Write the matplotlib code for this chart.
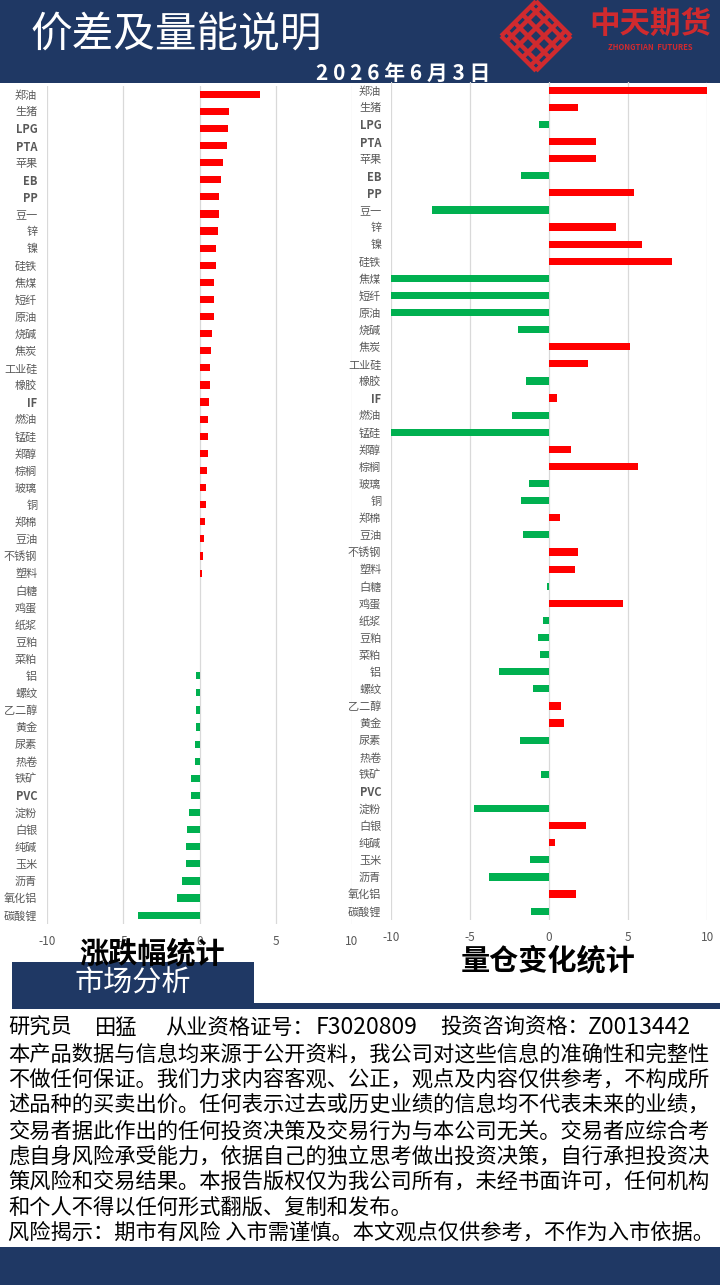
import matplotlib
matplotlib.use("Agg")
import matplotlib.pyplot as plt
from matplotlib.patches import Rectangle
import numpy as np

plt.rcParams['font.family'] = ['Noto Sans CJK SC', 'DejaVu Sans']

# ---------------- data ----------------
categories = ["郑油", "生猪", "LPG", "PTA", "苹果", "EB", "PP", "豆一", "锌", "镍",
              "硅铁", "焦煤", "短纤", "原油", "烧碱", "焦炭", "工业硅", "橡胶", "IF", "燃油",
              "锰硅", "郑醇", "棕榈", "玻璃", "铜", "郑棉", "豆油", "不锈钢", "塑料", "白糖",
              "鸡蛋", "纸浆", "豆粕", "菜粕", "铝", "螺纹", "乙二醇", "黄金", "尿素", "热卷",
              "铁矿", "PVC", "淀粉", "白银", "纯碱", "玉米", "沥青", "氧化铝", "碳酸锂"]

pct_change = [3.94, 1.93, 1.87, 1.80, 1.54, 1.41, 1.28, 1.27, 1.21, 1.08,
              1.07, 0.95, 0.95, 0.94, 0.82, 0.75, 0.69, 0.68, 0.62, 0.56,
              0.55, 0.54, 0.49, 0.42, 0.41, 0.36, 0.29, 0.23, 0.16, 0.06,
              0.04, 0.0, 0.0, 0.0, -0.20, -0.20, -0.20, -0.21, -0.27, -0.28,
              -0.54, -0.55, -0.67, -0.80, -0.87, -0.88, -1.13, -1.46, -4.02]

oi_change = [10.0, 1.81, -0.65, 2.95, 2.95, -1.79, 5.36, -7.43, 4.22, 5.86,
             7.76, -10.0, -10.0, -10.0, -1.98, 5.10, 2.45, -1.48, 0.49, -2.36,
             -10.0, 1.37, 5.61, -1.29, -1.79, 0.68, -1.67, 1.81, 1.62, -0.15,
             4.66, -0.40, -0.72, -0.59, -3.19, -1.03, 0.74, 0.93, -1.86, 0.0,
             -0.53, 0.0, -4.77, 2.32, 0.36, -1.22, -3.82, 1.69, -1.16]

x_ticks = [-10, -5, 0, 5, 10]
x_tick_labels = ["-10", "-5", "0", "5", "10"]

NAVY = "#1F3864"
RED = "#FF0000"
GREEN = "#00B050"
GRID = "#D9D9D9"
LABEL = "#595959"

W, H = 720, 1285
fig = plt.figure(figsize=(W / 100, H / 100), dpi=100)
fig.patch.set_facecolor("white")


def fx(x):
    return x / W


def fy(y):
    return 1 - y / H


def rect(x0, y0, x1, y1, color, z=-1):
    fig.add_artist(Rectangle((fx(x0), fy(y1)), fx(x1) - fx(x0), fy(y0) - fy(y1),
                             transform=fig.transFigure, facecolor=color,
                             edgecolor="none", zorder=z))


# ---------------- header ----------------
rect(0, 0, 720, 83, NAVY)
fig.text(fx(30), fy(36), "价差及量能说明", color="white", fontsize=30,
         ha="left", va="center", zorder=5)
fig.text(fx(403), fy(73), "2 0 2 6 年 6 月 3 日", color="white", fontsize=15,
         fontweight="bold", ha="center", va="center", zorder=5)

# logo (simplified knot)
logo_red = "#D02A2E"
cx, cy, r = 536, 36, 36
ang = np.deg2rad(45)
rot = np.array([[np.cos(ang), -np.sin(ang)], [np.sin(ang), np.cos(ang)]])


def knot_line(p0, p1, lw=3.2):
    a = rot @ np.array(p0) * r * 0.72
    b = rot @ np.array(p1) * r * 0.72
    fig.add_artist(plt.Line2D([fx(cx + a[0]), fx(cx + b[0])],
                              [fy(cy + a[1]), fy(cy + b[1])],
                              transform=fig.transFigure, color=logo_red,
                              lw=lw, zorder=4, solid_capstyle="butt"))


for c in [-0.66, -0.22, 0.22, 0.66]:
    knot_line((c, -0.95), (c, 0.95))
    knot_line((-0.95, c), (0.95, c))
for sgn in [-1, 1]:
    knot_line((-0.95, sgn * 0.95), (0.95, sgn * 0.95))
    knot_line((sgn * 0.95, -0.95), (sgn * 0.95, 0.95))
fig.text(fx(650), fy(25), "中天期货", color=logo_red, fontsize=22,
         fontweight="heavy", ha="center", va="center", zorder=5)
fig.text(fx(650), fy(47), "ZHONGTIAN  FUTURES", color=logo_red, fontsize=5.5,
         fontweight="bold", ha="center", va="center", zorder=5)


# ---------------- charts ----------------
def make_chart(ax, values):
    y = np.arange(len(categories))
    colors = [RED if v > 0 else GREEN for v in values]
    ax.barh(y, values, height=0.42, color=colors, zorder=3)
    ax.set_ylim(len(categories) - 0.5, -0.5)
    ax.set_xlim(-10, 10)
    ax.set_xticks(x_ticks)
    ax.set_xticklabels(x_tick_labels)
    ax.set_yticks(y)
    ax.set_yticklabels(categories)
    for lab in ax.get_yticklabels():
        if lab.get_text().isascii():
            lab.set_fontweight("bold")
    ax.tick_params(axis="y", length=0, pad=7, labelsize=8, labelcolor=LABEL)
    ax.tick_params(axis="x", length=0, pad=8, labelsize=8.5, labelcolor=LABEL)
    ax.grid(axis="x", color=GRID, lw=0.9, zorder=0)
    ax.set_axisbelow(True)
    for s in ax.spines.values():
        s.set_visible(False)
    ax.set_facecolor("none")


axL = fig.add_axes([fx(47), fy(923.7), (352 - 47) / W, 838 / H])
make_chart(axL, pct_change)
axR = fig.add_axes([fx(391), fy(919.7), (707.3 - 391) / W, 838 / H])
make_chart(axR, oi_change)

fig.text(fx(152), fy(953), "涨跌幅统计", color="black", fontsize=21,
         fontweight="bold", ha="center", va="center", zorder=10)
fig.text(fx(548), fy(960), "量仓变化统计", color="black", fontsize=21,
         fontweight="bold", ha="center", va="center", zorder=10)

# ---------------- market analysis box ----------------
rect(12, 962, 254, 1003, NAVY, z=1)
rect(12, 1003, 720, 1009, NAVY, z=1)
fig.text(fx(133), fy(984), "市场分析", color="white", fontsize=21,
         ha="center", va="center", zorder=11)

FS = 15.3
# first line: researcher info, in segments as laid out in the reference
for t, xx in [("研究员", 8), ("田猛", 95), ("从业资格证号：", 165), ("F3020809", 316),
              ("投资咨询资格：", 440), ("Z0013442", 588)]:
    fig.text(fx(xx), fy(1028), t, color="black",
             fontsize=(FS * 1.08 if t.isascii() else FS),
             ha="left", va="center")

lines = [
    "本产品数据与信息均来源于公开资料，我公司对这些信息的准确性和完整性",
    "不做任何保证。我们力求内容客观、公正，观点及内容仅供参考，不构成所",
    "述品种的买卖出价。任何表示过去或历史业绩的信息均不代表未来的业绩，",
    "交易者据此作出的任何投资决策及交易行为与本公司无关。交易者应综合考",
    "虑自身风险承受能力，依据自己的独立思考做出投资决策，自行承担投资决",
    "策风险和交易结果。本报告版权仅为我公司所有，未经书面许可，任何机构",
    "和个人不得以任何形式翻版、复制和发布。",
    "风险揭示：期市有风险 入市需谨慎。本文观点仅供参考，不作为入市依据。",
]
line_y = [1055, 1080, 1105, 1132, 1157, 1182, 1208, 1233]
for t, yy in zip(lines, line_y):
    fig.text(fx(8), fy(yy), t, color="black", fontsize=FS,
             ha="left", va="center")

rect(0, 1247, 720, 1285, NAVY)

fig.savefig("out.png", dpi=100)
